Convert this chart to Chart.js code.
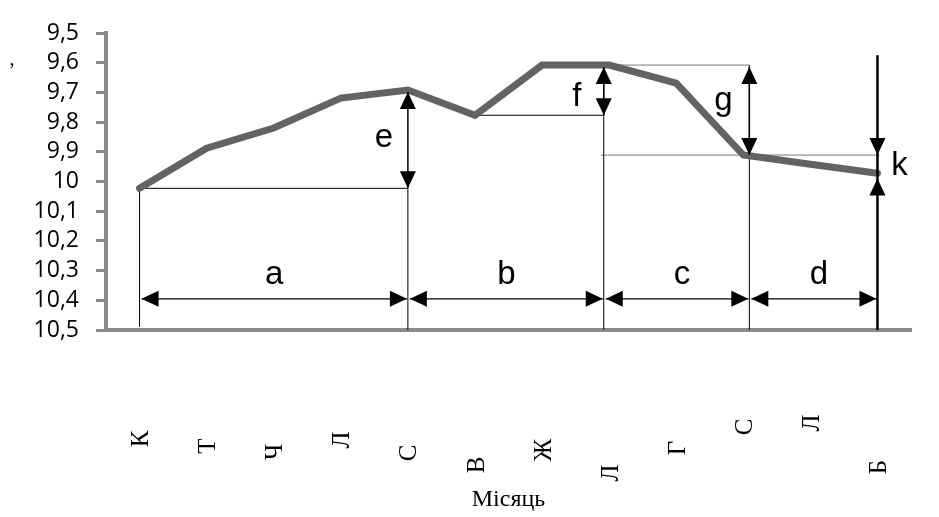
<!DOCTYPE html>
<html>
<head>
<meta charset="utf-8">
<script src="https://cdn.jsdelivr.net/npm/chart.js@4/dist/chart.umd.min.js"></script>
<style>
  html, body { margin: 0; background: #fff; }
</style>
</head>
<body>
<canvas id="chart" width="939" height="517"></canvas>
<script>
// місяці (підписи обрізані до першої літери, як на оригіналі)
const months = ["К", "Т", "Ч", "Л", "С", "В", "Ж", "Л", "Г", "С", "Л", "Б"];
const level = [10.023, 9.888, 9.82, 9.719, 9.692, 9.777, 9.608, 9.608, 9.669, 9.911, 9.942, 9.972];
const yTickValues = [9.5, 9.6, 9.7, 9.8, 9.9, 10, 10.1, 10.2, 10.3, 10.4, 10.5];
const yTickLabels = ["9,5", "9,6", "9,7", "9,8", "9,9", "10", "10,1", "10,2", "10,3", "10,4", "10,5"];
// how far below the axis each rotated month letter sits (px)
const labelDrop = [109, 116, 122, 110, 123, 135, 120, 143, 118, 97, 93, 137];

// dimension marks, in category index / value units
const spanBreaks = [0, 4, 6.92, 9.09, 11];
const spanNames = ["a", "b", "c", "d"];
const spanLevel = 10.395;
const spanTextLevel = 10.345;
const rises = [
  { name: "e", at: 4, top: level[4], bottom: level[0], textAt: 9.885, dx: -24 },
  { name: "f", at: 6.92, top: level[7], bottom: level[5], textAt: 9.746, dx: -27 },
  { name: "g", at: 9.09, top: level[7], bottom: level[9], textAt: 9.76, dx: -26 }
];
const kLine = { at: 11, top: 9.575, down: level[9], up: level[11] + 0.018, textAt: 9.979 };

function head(ctx, x, y, dx, dy) {
  const L = 17, W = 8;
  const bx = x - dx * L, by = y - dy * L;
  ctx.beginPath();
  ctx.moveTo(x, y);
  ctx.lineTo(bx - dy * W, by + dx * W);
  ctx.lineTo(bx + dy * W, by - dx * W);
  ctx.closePath();
  ctx.fill();
}

function seg(ctx, x1, y1, x2, y2, color, w) {
  ctx.strokeStyle = color;
  ctx.lineWidth = w;
  ctx.beginPath();
  ctx.moveTo(x1, y1);
  ctx.lineTo(x2, y2);
  ctx.stroke();
}

const guides = {
  id: "guides",
  beforeDatasetsDraw(chart) {
    const { ctx } = chart;
    const x = chart.scales.x, y = chart.scales.y;
    const X = i => x.getPixelForValue(i), Y = v => y.getPixelForValue(v);
    ctx.save();
    // horizontal reference lines
    seg(ctx, X(0), Y(level[0]), X(4), Y(level[0]), "#000", 1);
    seg(ctx, X(5), Y(level[5]), X(6.92), Y(level[5]), "#000", 1);
    seg(ctx, X(6.68), Y(level[7]), X(9.09), Y(level[7]), "#777", 1);
    seg(ctx, X(6.88), Y(level[9]), X(11.03), Y(level[9]), "#777", 1);
    // vertical drop lines
    seg(ctx, X(0), Y(level[0]), X(0), Y(10.49), "#000", 1);
    seg(ctx, X(4), Y(level[0]), X(4), Y(10.5), "#000", 1);
    seg(ctx, X(6.92), Y(level[7]), X(6.92), Y(10.5), "#000", 1);
    seg(ctx, X(9.09), Y(level[7]), X(9.09), Y(10.5), "#000", 1);
    ctx.restore();
  },
  afterDatasetsDraw(chart) {
    const { ctx } = chart;
    const x = chart.scales.x, y = chart.scales.y;
    const X = i => x.getPixelForValue(i), Y = v => y.getPixelForValue(v);
    ctx.save();
    ctx.fillStyle = "#000";
    ctx.font = "33px 'Liberation Sans', Arial, sans-serif";
    ctx.textAlign = "center";
    ctx.textBaseline = "alphabetic";

    // a, b, c, d
    const ys = Y(spanLevel);
    for (let i = 0; i < spanNames.length; i++) {
      const x1 = X(spanBreaks[i]) + 2, x2 = X(spanBreaks[i + 1]) - 1;
      seg(ctx, x1, ys, x2, ys, "#000", 1.2);
      head(ctx, x1, ys, -1, 0);
      head(ctx, x2, ys, 1, 0);
      ctx.fillText(spanNames[i], (x1 + x2) / 2 + (i > 1 ? 5 : 0), Y(spanTextLevel));
    }

    // e, f, g
    rises.forEach(r => {
      const xx = X(r.at), y1 = Y(r.top) + 2, y2 = Y(r.bottom);
      seg(ctx, xx, y1, xx, y2, "#000", 1.5);
      head(ctx, xx, y1, 0, -1);
      head(ctx, xx, y2, 0, 1);
      ctx.fillText(r.name, xx + r.dx, Y(r.textAt));
    });

    // k
    const xk = X(kLine.at);
    seg(ctx, xk, Y(kLine.top), xk, Y(10.5), "#000", 2.5);
    head(ctx, xk, Y(kLine.down), 0, 1);
    head(ctx, xk, Y(kLine.up), 0, -1);
    ctx.fillText("k", xk + 22, Y(kLine.textAt));

    // rotated month letters
    ctx.font = "25px 'Liberation Serif', 'Times New Roman', serif";
    ctx.textBaseline = "middle";
    months.forEach((m, i) => {
      ctx.save();
      ctx.translate(X(i) + 2, x.top + labelDrop[i]);
      ctx.rotate(-Math.PI / 2);
      ctx.fillText(m, 0, 0);
      ctx.restore();
    });

    // y-axis title (only a comma survived)
    ctx.font = "20px 'Liberation Serif', serif";
    ctx.fillText(",", 12, Y(9.59));
    ctx.restore();
  }
};

const ctx = document.getElementById("chart").getContext("2d");
new Chart(ctx, {
  type: "line",
  data: {
    labels: months,
    datasets: [{
      data: level,
      borderColor: "#636363",
      borderWidth: 7,
      borderCapStyle: "round",
      pointRadius: 0,
      tension: 0,
      clip: false
    }]
  },
  options: {
    responsive: false,
    animation: false,
    devicePixelRatio: 1,
    layout: { padding: { top: 33, right: 28, left: 0, bottom: 0 } },
    plugins: { legend: { display: false }, tooltip: { enabled: false } },
    scales: {
      x: {
        offset: true,
        grid: { display: false, drawTicks: false },
        border: { color: "#8a8a8a", width: 4 },
        ticks: { display: false },
        title: {
          display: true,
          text: "Місяць",
          color: "#000",
          font: { family: "'Liberation Serif', 'Times New Roman', serif", size: 24 },
          padding: { top: 0, bottom: 3 }
        },
        afterFit: s => { s.height = 187; }
      },
      y: {
        reverse: true,
        min: 9.5,
        max: 10.5,
        afterBuildTicks: s => { s.ticks = yTickValues.map(v => ({ value: v })); },
        ticks: {
          autoSkip: false,
          padding: 17,
          color: "#000",
          font: { family: "'Open Sans', sans-serif", size: 23 },
          callback: (v, i) => yTickLabels[i]
        },
        grid: { drawOnChartArea: false, tickLength: 10, tickColor: "#8a8a8a", tickWidth: 3 },
        border: { color: "#8a8a8a", width: 4 },
        afterFit: s => { s.width = 106; }
      }
    }
  },
  plugins: [guides]
});
</script>
</body>
</html>
